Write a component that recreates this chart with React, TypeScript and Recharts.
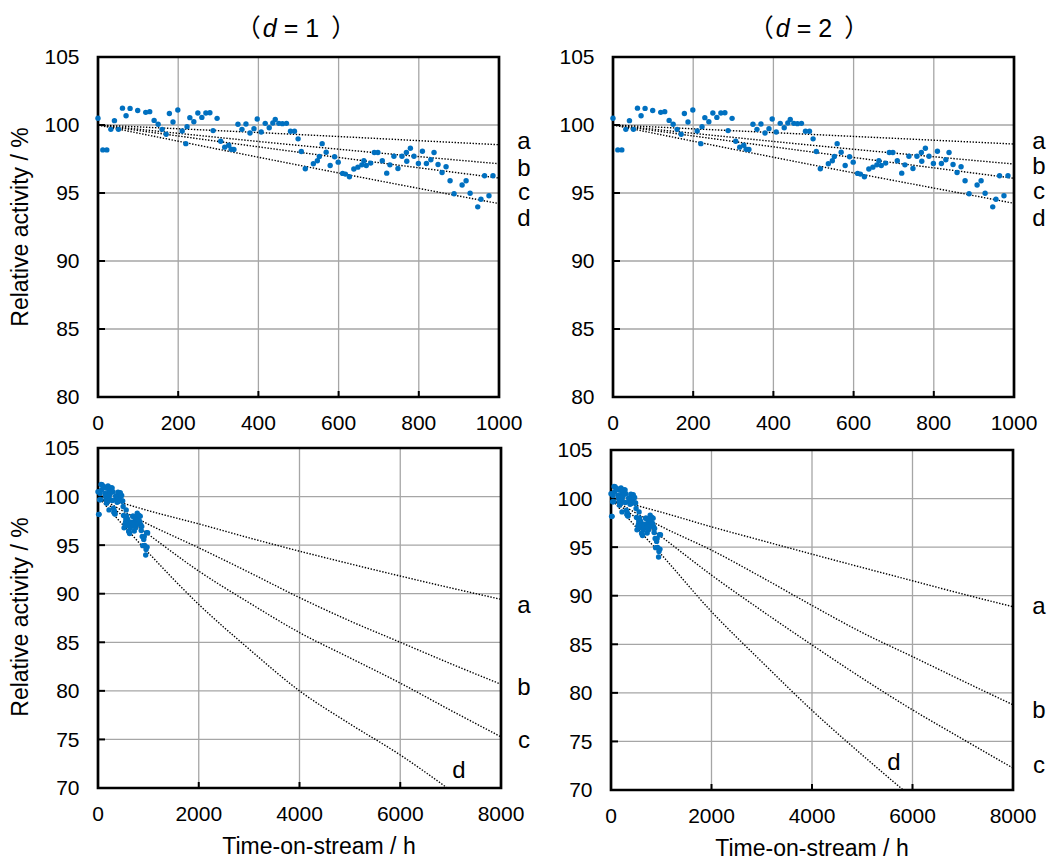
import React from "react";
import {
  ComposedChart,
  Scatter,
  Line,
  XAxis,
  YAxis,
  CartesianGrid,
  ReferenceArea,
} from "recharts";

const FONT = "Liberation Sans, Arial, sans-serif";
const CJK = "Noto Sans CJK JP, Noto Sans CJK SC, sans-serif";

const runTime = [
  0, 12, 22, 32, 41, 51, 61, 70, 80, 99, 119, 129, 140, 150, 160, 170, 178, 187,
  199, 210, 219, 222, 229, 239, 249, 259, 269, 279, 287, 297, 306, 316, 326, 332,
  339, 349, 359, 369, 379, 389, 397, 407, 417, 427, 436, 442, 451, 460, 470, 480,
  490, 499, 507, 517, 537, 547, 552, 559, 569, 579, 590, 599, 610, 617, 627, 638,
  648, 658, 663, 669, 680, 689, 698, 709, 720, 728, 738, 748, 758, 769, 770, 779,
  788, 799, 809, 819, 830, 838, 848, 858, 868, 878, 888, 908, 918, 928, 947, 955,
  964, 975, 985,
];
const runActivity = [
  100.5, 98.17, 98.17, 99.68, 100.32, 99.68, 101.24, 100.68, 101.22, 101.07,
  100.93, 100.98, 100.34, 100.05, 99.68, 99.32, 100.85, 100.22, 101.1, 99.56,
  98.63, 99.88, 100.54, 100.24, 100.88, 100.56, 100.88, 100.9, 99.59, 100.49,
  98.8, 98.37, 98.51, 98.22, 98.2, 100.05, 99.68, 100.07, 99.41, 99.73, 100.44,
  99.49, 100.12, 99.8, 100.15, 100.41, 100.12, 100.1, 100.12, 99.54, 99.54,
  98.98, 98.05, 96.78, 97.15, 97.37, 97.68, 98.63, 98.0, 97.02, 97.66, 97.27,
  96.44, 96.39, 96.2, 96.76, 96.9, 97.07, 97.37, 97.02, 97.2, 97.98, 97.98,
  97.37, 96.46, 97.07, 97.7, 96.8, 97.7, 97.98, 97.34, 98.29, 97.7, 97.17,
  98.07, 97.17, 97.44, 97.98, 97.1, 96.51, 96.93, 95.9, 94.95, 95.59, 95.9,
  94.98, 93.98, 94.54, 96.27, 94.8, 96.27,
];

// model curves a-d, read at these times
const curveTime = [0, 500, 1000, 2000, 3000, 4000, 5000, 6000, 7000, 8000];

const d1a = [100, 99.3, 98.55, 97.19, 95.75, 94.38, 93.08, 91.82, 90.6, 89.42];
const d1b = [100, 98.5, 97.15, 94.73, 92.2, 89.6, 87.2, 85.0, 82.8, 80.68];
const d1c = [100, 98.0, 96.1, 92.33, 89.07, 86.0, 83.4, 80.8, 78.0, 75.27];
const d1d = [100, 97.05, 94.22, 88.9, 84.3, 80.0, 76.6, 73.4, 69.75, null];

const d2a = [100, 99.3, 98.6, 97.09, 95.68, 94.28, 92.9, 91.54, 90.17, 88.87];
const d2b = [100, 98.5, 97.13, 94.69, 91.9, 89.0, 86.2, 83.73, 81.23, 78.77];
const d2c = [100, 98.0, 96.08, 92.12, 88.46, 84.93, 81.5, 78.25, 75.24, 72.26];
const d2d = [100, 97.05, 94.24, 88.36, 83.2, 78.2, 73.6, 69.2, null, null];

const shortTicks = [0, 200, 400, 600, 800, 1000];
const longTicks = [0, 2000, 4000, 6000, 8000];
const topYTicks = [80, 85, 90, 95, 100, 105];
const bottomYTicks = [70, 75, 80, 85, 90, 95, 100, 105];

const points = runTime.map((t, i) => ({ t, v: runActivity[i] }));

const toCurve = (values: (number | null)[]) =>
  curveTime
    .map((t, i) => ({ t, v: values[i] }))
    .filter((p) => p.v !== null);

const d1Curves = [d1a, d1b, d1c, d1d].map(toCurve);
const d2Curves = [d2a, d2b, d2c, d2d].map(toCurve);

const BlueDot = (props: any) => (
  <circle cx={props.cx} cy={props.cy} r={2.7} fill="#0070C0" />
);

interface PanelProps {
  x: number;
  y: number;
  w: number;
  h: number;
  xMax: number;
  xTicks: number[];
  yMin: number;
  yTicks: number[];
  curves: { t: number; v: number | null }[][];
}

/**
 * One framed panel: gridded plot with the measured points and the dotted curves.
 * x/y/w/h describe the plot area in page pixels.
 */
function Panel({ x, y, w, h, xMax, xTicks, yMin, yTicks, curves }: PanelProps) {
  const padL = 90;
  const padT = 30;
  const padR = 45;
  const padB = 50;
  const tickFont = { fill: "#000", fontSize: 21, fontFamily: FONT };

  return (
    <div style={{ position: "absolute", left: x - padL, top: y - padT }}>
      <ComposedChart
        width={w + padL + padR}
        height={h + padT + padB}
        margin={{ top: padT, right: padR, left: padL - 50, bottom: padB - 40 }}
      >
        <CartesianGrid stroke="#a6a6a6" strokeWidth={1.3} />
        <XAxis
          xAxisId={0}
          type="number"
          dataKey="t"
          domain={[0, xMax]}
          ticks={xTicks}
          interval={0}
          allowDataOverflow
          height={40}
          axisLine={false}
          tickSize={-6}
          tickMargin={24.5}
          tickLine={{ stroke: "#000", strokeWidth: 2 }}
          tick={tickFont}
        />
        <YAxis
          yAxisId={0}
          type="number"
          dataKey="v"
          domain={[yMin, 105]}
          ticks={yTicks}
          interval={0}
          allowDataOverflow
          width={50}
          axisLine={false}
          tickSize={-7}
          tickMargin={25.5}
          tickLine={{ stroke: "#000", strokeWidth: 2 }}
          tick={tickFont}
        />
        {/* unclipped axes for the points so the edge dots stay whole */}
        <XAxis xAxisId="pts" type="number" dataKey="t" domain={[0, xMax]} hide />
        <YAxis yAxisId="pts" type="number" dataKey="v" domain={[yMin, 105]} hide />
        {curves.map((c, i) => (
          <Line
            key={i}
            xAxisId={0}
            yAxisId={0}
            data={c}
            dataKey="v"
            type="monotone"
            stroke="#000"
            strokeWidth={1.4}
            strokeDasharray="1.4 1.6"
            dot={false}
            activeDot={false}
            isAnimationActive={false}
          />
        ))}
        <Scatter
          xAxisId="pts"
          yAxisId="pts"
          data={points}
          dataKey="v"
          shape={BlueDot}
          isAnimationActive={false}
        />
        <ReferenceArea
          x1={0}
          x2={xMax}
          y1={yMin}
          y2={105}
          fill="none"
          stroke="#000"
          strokeWidth={2.7}
          ifOverflow="visible"
        />
      </ComposedChart>
    </div>
  );
}

const curveNames = ["a", "b", "c", "d"];

// label spots next to the curves (page pixels, baseline)
const labelSpots = [
  [[524, 149], [524, 176], [524, 200], [524, 226]],
  [[1039, 149], [1039, 174], [1039, 199], [1039, 226]],
  [[524, 613], [524, 695], [524, 748], [459, 778]],
  [[1039, 614], [1039, 718], [1039, 773], [894, 770]],
];

// the brackets come out narrow here; the gap sits before the closing one
function Title({ cx, n }: { cx: number; n: string }) {
  return (
    <text x={cx} y={37} textAnchor="middle" fontSize={25}>
      <tspan fontFamily={CJK}>（</tspan>
      <tspan dx={2} fontStyle="italic">d</tspan>
      <tspan> = {n}</tspan>
      <tspan dx={12} fontFamily={CJK}>）</tspan>
    </text>
  );
}

export default function App() {
  return (
    <div
      style={{
        position: "absolute",
        left: 0,
        top: 0,
        width: 1047,
        height: 864,
        background: "#fff",
        fontFamily: FONT,
      }}
    >
      <Panel x={98} y={57} w={401} h={340} xMax={1000} xTicks={shortTicks}
        yMin={80} yTicks={topYTicks} curves={d1Curves} />
      <Panel x={612.5} y={57} w={401} h={340} xMax={1000} xTicks={shortTicks}
        yMin={80} yTicks={topYTicks} curves={d2Curves} />
      <Panel x={97.5} y={447.5} w={403} h={340} xMax={8000} xTicks={longTicks}
        yMin={70} yTicks={bottomYTicks} curves={d1Curves} />
      <Panel x={611} y={450} w={402} h={340} xMax={8000} xTicks={longTicks}
        yMin={70} yTicks={bottomYTicks} curves={d2Curves} />

      <svg
        width={1047}
        height={864}
        style={{ position: "absolute", left: 0, top: 0, pointerEvents: "none" }}
        fontFamily={FONT}
        fill="#000"
      >
        <Title cx={296} n="1" />
        <Title cx={809} n="2" />

        <text transform="translate(28,227) rotate(-90)" textAnchor="middle" fontSize={23}>
          Relative activity / %
        </text>
        <text transform="translate(28,617) rotate(-90)" textAnchor="middle" fontSize={23}>
          Relative activity / %
        </text>

        <text x={319} y={854} textAnchor="middle" fontSize={23}>
          Time-on-stream / h
        </text>
        <text x={812} y={856} textAnchor="middle" fontSize={23}>
          Time-on-stream / h
        </text>

        {labelSpots.map((spots, p) =>
          spots.map(([lx, ly], i) => (
            <text key={`${p}-${i}`} x={lx} y={ly} textAnchor="middle" fontSize={24}>
              {curveNames[i]}
            </text>
          ))
        )}
      </svg>
    </div>
  );
}
